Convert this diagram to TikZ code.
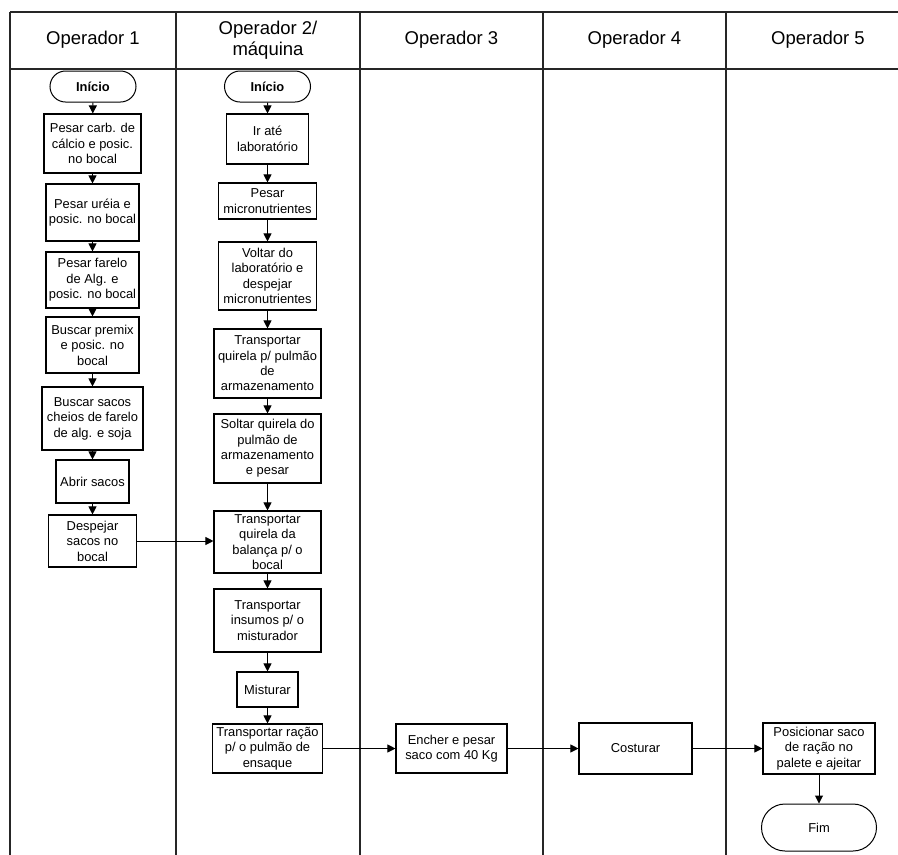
\documentclass[tikz,border=0pt]{standalone}
\usepackage{fontspec}
\setmainfont{Liberation Sans}
\usetikzlibrary{arrows.meta,shapes.misc}
\begin{document}
\begin{tikzpicture}[x=1pt,y=-1pt,
  lane/.style={draw=black!85, line width=1.4pt},
  proc/.style={draw, line width=1.1pt, inner sep=0pt, align=center, font=\fontsize{12.9}{15.4}\selectfont},
  term/.style={draw, line width=1pt, rounded rectangle, inner sep=0pt, font=\fontsize{12.9}{15.4}\selectfont},
  flow/.style={line width=1pt, -{Triangle[length=8pt,width=8pt]}},
  hdr/.style={align=center, font=\fontsize{18.5}{21.5}\selectfont}]
\useasboundingbox (0,0) rectangle (898,855);
\fill[white] (0,0) rectangle (898,855);
% swimlane frame
\coordinate (tl) at (10,12);
\coordinate (tr) at (898,12);
\coordinate (hl) at (10,69);
\coordinate (hr) at (898,69);
\draw[lane] (tl) -- (tr);
\draw[lane] (hl) -- (hr);
\foreach \xx/\nm in {10/v0,176/v1,360/v2,543/v3,726/v4}{
  \coordinate (\nm t) at (\xx,12);
  \coordinate (\nm b) at (\xx,855);
  \draw[lane] (\nm t) -- (\nm b);
}
% headers
\node[hdr] (h1) at (93,40) {Operador 1};
\node[hdr] (h2) at (268,40) {Operador 2/\\máquina};
\node[hdr] (h3) at (451.5,40) {Operador 3};
\node[hdr] (h4) at (634.5,40) {Operador 4};
\node[hdr] (h5) at (818,40) {Operador 5};
% column 1
\node[term, minimum width=86, minimum height=31] (ini1) at (93,86.5) {\bfseries Início};
\node[proc, minimum width=97, minimum height=59] (a1) at (92.5,143.5) {Pesar carb. de\\cálcio e posic.\\no bocal};
\node[proc, minimum width=93, minimum height=57] (a2) at (92.5,212.5) {Pesar uréia e\\posic. no bocal};
\node[proc, minimum width=93, minimum height=56] (a3) at (92.5,280) {Pesar farelo\\de Alg. e\\posic. no bocal};
\node[proc, minimum width=93, minimum height=56] (a4) at (92.5,345) {Buscar premix\\e posic. no\\bocal};
\node[proc, minimum width=101, minimum height=63] (a5) at (92.5,418.5) {Buscar sacos\\cheios de farelo\\de alg. e soja};
\node[proc, minimum width=73, minimum height=43] (a6) at (92.5,481.5) {Abrir sacos};
\node[proc, minimum width=88, minimum height=52] (a7) at (92.5,541) {Despejar\\sacos no\\bocal};
% column 2
\node[term, minimum width=86, minimum height=31] (ini2) at (267.5,86.5) {\bfseries Início};
\node[proc, minimum width=82, minimum height=50] (b1) at (267.5,139) {Ir até\\laboratório};
\node[proc, minimum width=98, minimum height=36] (b2) at (267.5,201) {Pesar\\micronutrientes};
\node[proc, minimum width=98, minimum height=68] (b3) at (267.5,276) {Voltar do\\laboratório e\\despejar\\micronutrientes};
\node[proc, minimum width=107, minimum height=69] (b4) at (267.5,363.5) {Transportar\\quirela p/ pulmão\\de\\armazenamento};
\node[proc, minimum width=107, minimum height=69] (b5) at (267.5,448.5) {Soltar quirela do\\pulmão de\\armazenamento\\e pesar};
\node[proc, minimum width=107, minimum height=62] (b6) at (267.5,542) {Transportar\\quirela da\\balança p/ o\\bocal};
\node[proc, minimum width=107, minimum height=63] (b7) at (267.5,620.5) {Transportar\\insumos p/ o\\misturador};
\node[proc, minimum width=61, minimum height=35] (b8) at (267.5,689.5) {Misturar};
\node[proc, minimum width=110, minimum height=49] (b9) at (267.5,748.5) {Transportar ração\\p/ o pulmão de\\ensaque};
% columns 3-5
\node[proc, minimum width=111, minimum height=49] (c1) at (451.5,748.5) {Encher e pesar\\saco com 40 Kg};
\node[proc, minimum width=113, minimum height=51] (d1) at (635.5,748.5) {Costurar};
\node[proc, minimum width=112, minimum height=51] (e1) at (819,748.5) {Posicionar saco\\de ração no\\palete e ajeitar};
\node[term, minimum width=115, minimum height=47] (fim) at (819,827.5) {Fim};
% connectors
\draw[flow] (ini1) -- (a1);
\draw[flow] (a1) -- (a2);
\draw[flow] (a2) -- (a3);
\draw[flow] (a3) -- (a4);
\draw[flow] (a4) -- (a5);
\draw[flow] (a5) -- (a6);
\draw[flow] (a6) -- (a7);
\draw[flow] (ini2) -- (b1);
\draw[flow] (b1) -- (b2);
\draw[flow] (b2) -- (b3);
\draw[flow] (b3) -- (b4);
\draw[flow] (b4) -- (b5);
\draw[flow] (b5) -- (b6);
\draw[flow] (b6) -- (b7);
\draw[flow] (b7) -- (b8);
\draw[flow] (b8) -- (b9);
\draw[flow] (a7.east) -- (a7.east -| b6.west);
\draw[flow] (b9) -- (c1);
\draw[flow] (c1) -- (d1);
\draw[flow] (d1) -- (e1);
\draw[flow] (e1) -- (fim);
\end{tikzpicture}
\end{document}
